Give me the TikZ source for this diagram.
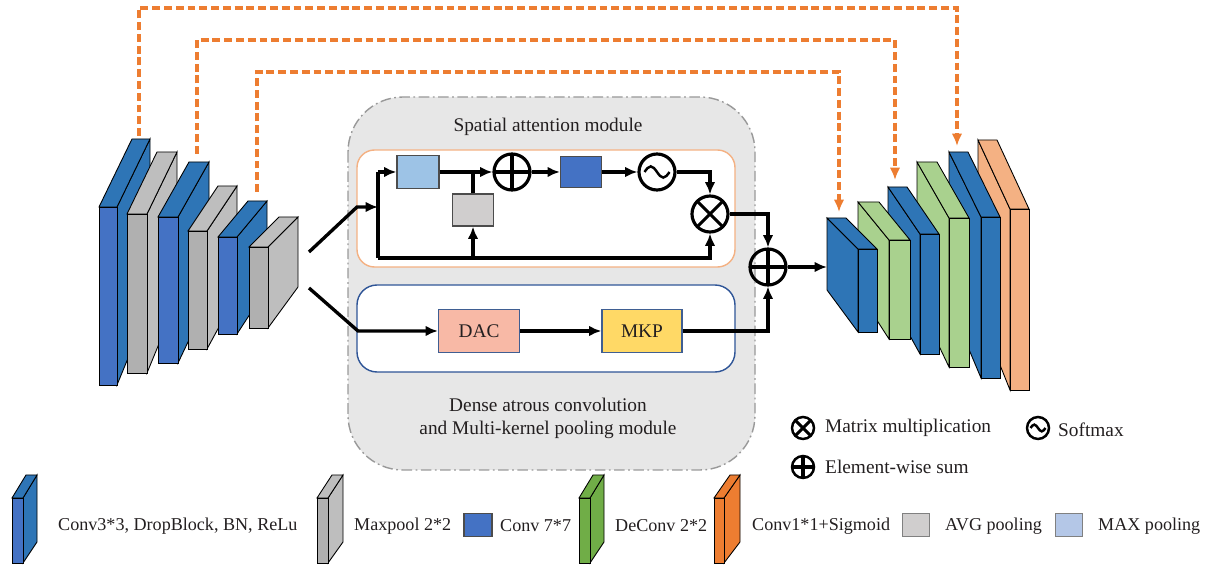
\documentclass[tikz,border=0pt]{standalone}
\usepackage{fontspec}
\setmainfont{Liberation Serif}
\usetikzlibrary{positioning, arrows.meta}

\definecolor{frontblue}{RGB}{68,114,196}
\definecolor{sideblue}{RGB}{46,117,182}
\definecolor{slabgray}{RGB}{176,176,176}
\definecolor{slabgrayside}{RGB}{190,190,190}
\definecolor{slabgreen}{RGB}{169,209,142}
\definecolor{slaborange}{RGB}{244,177,131}
\definecolor{keygreen}{RGB}{112,173,71}
\definecolor{keyorange}{RGB}{237,125,49}
\definecolor{skiporange}{RGB}{237,125,49}
\definecolor{panelgray}{RGB}{231,231,231}
\definecolor{saorange}{RGB}{244,177,131}
\definecolor{mkblue}{RGB}{47,85,151}
\definecolor{maxfill}{RGB}{157,195,230}
\definecolor{avgfill}{RGB}{208,206,206}
\definecolor{dacfill}{RGB}{248,185,166}
\definecolor{mkpfill}{RGB}{255,217,102}
\definecolor{keymax}{RGB}{180,199,231}
\definecolor{inkgray}{RGB}{35,31,32}

% slab seen from the left: front, side, x1, y1, x2, y2, dx, dy top, dy bottom
\newcommand{\lslab}[9]{%
  \filldraw[slabedge, fill=#2] (#5,#4) -- ++(#7,#8) -- ({#5+#7},{#6+#9}) -- (#5,#6) -- cycle;
  \filldraw[slabedge, fill=#2] (#3,#4) -- ++(#7,#8) -- ({#5+#7},{#4+#8}) -- (#5,#4) -- cycle;
  \filldraw[slabedge, fill=#1] (#3,#4) rectangle (#5,#6);
}
% slab seen from the right
\newcommand{\rslab}[9]{%
  \filldraw[slabedge, fill=#2] (#3,#4) -- ++(#7,#8) -- ({#3+#7},{#6+#9}) -- (#3,#6) -- cycle;
  \filldraw[slabedge, fill=#2] (#3,#4) -- ++(#7,#8) -- ({#5+#7},{#4+#8}) -- (#5,#4) -- cycle;
  \filldraw[slabedge, fill=#1] (#3,#4) rectangle (#5,#6);
}

\tikzset{
  slabedge/.style={draw=black, line width=0.5pt},
  conn/.style={line width=1.9pt},
  skip/.style={draw=skiporange, line width=2pt, dash pattern=on 4.5pt off 2.2pt},
  opnode/.style={circle, draw, line width=1.8pt, minimum size=0.72cm, inner sep=0pt},
  plus/.style={opnode, path picture={\draw[line width=1.8pt]
      (path picture bounding box.north) -- (path picture bounding box.south)
      (path picture bounding box.west) -- (path picture bounding box.east);}},
  times/.style={opnode, path picture={\draw[line width=1.8pt]
      (path picture bounding box.north west) -- (path picture bounding box.south east)
      (path picture bounding box.north east) -- (path picture bounding box.south west);}},
  wave/.style={opnode, path picture={\draw[line width=1.4pt]
      ([xshift=-#1]path picture bounding box.center)
      sin ([xshift=-#1/2, yshift=#1*0.45]path picture bounding box.center)
      cos (path picture bounding box.center)
      sin ([xshift=#1/2, yshift=-#1*0.45]path picture bounding box.center)
      cos ([xshift=#1]path picture bounding box.center);}},
  keyop/.style={minimum size=0.44cm, line width=1.4pt},
  box/.style={draw=black!70, line width=0.7pt, inner sep=0pt},
  label/.style={text=inkgray, font=\fontsize{11pt}{13pt}\selectfont},
  keytext/.style={label, anchor=west},
  blocktext/.style={keytext, font=\fontsize{10.3pt}{12pt}\selectfont}
}

\begin{document}
\begin{tikzpicture}[x=0.02cm, y=-0.02cm, >={Latex[length=7pt,width=6pt]}]
  \useasboundingbox (0,0) rectangle (1208,567);

  % module panel
  \filldraw[fill=panelgray, draw=gray!80, line width=0.8pt,
    dash pattern=on 6pt off 2pt on 1pt off 2pt, rounded corners=1.1cm]
    (348,97) rectangle (755,470);
  \filldraw[fill=white, draw=saorange, line width=0.8pt, rounded corners=0.35cm]
    (357,150) rectangle (735,267);
  \filldraw[fill=white, draw=mkblue, line width=0.8pt, rounded corners=0.4cm]
    (357,285) rectangle (735,372);
  \node[label] (satitle) at (548,127) {Spatial attention module};
  \node[label, align=center] (mktitle) at (548,418)
    {Dense atrous convolution\\and Multi-kernel pooling module};

  % skip connections
  \coordinate (e1) at (139,136);
  \coordinate (e3) at (197,154);
  \coordinate (e5) at (257,192);
  \coordinate (d1) at (839,212);
  \coordinate (d3) at (895,180);
  \coordinate (d5) at (957,146);
  \coordinate (top1) at (0,8);
  \coordinate (top2) at (0,40);
  \coordinate (top3) at (0,72);
  \draw[skip, ->] (e1) -- (e1 |- top1) -| (d5);
  \draw[skip, ->] (e3) -- (e3 |- top2) -| (d3);
  \draw[skip, ->] (e5) -- (e5 |- top3) -| (d1);

  % encoder
  \lslab{frontblue}{sideblue}{99}{207}{117}{385}{33}{-68}{-80}
  \lslab{slabgray}{slabgrayside}{127}{214}{147}{373}{30}{-62}{-73}
  \lslab{frontblue}{sideblue}{158}{217}{178}{363}{31}{-55}{-65}
  \lslab{slabgray}{slabgrayside}{188}{231}{207}{349}{30}{-45}{-55}
  \lslab{frontblue}{sideblue}{218}{237}{237}{334}{30}{-36}{-46}
  \lslab{slabgray}{slabgrayside}{249}{247}{268}{328}{30}{-30}{-41}

  % decoder
  \rslab{slaborange}{slaborange}{1010}{209}{1029}{390}{-32}{-69}{-80}
  \rslab{sideblue}{sideblue}{981}{217}{1000}{378}{-32}{-65}{-76}
  \rslab{slabgreen}{slabgreen}{949}{218}{969}{367}{-32}{-56}{-67}
  \rslab{sideblue}{sideblue}{920}{234}{939}{354}{-32}{-47}{-58}
  \rslab{slabgreen}{slabgreen}{889}{240}{910}{339}{-31}{-38}{-48}
  \rslab{sideblue}{sideblue}{858}{249}{877}{332}{-31}{-31}{-42}

  % spatial attention
  \node[box, fill=maxfill, minimum width=0.84cm, minimum height=0.66cm] (maxbox) at (418,172) {};
  \node[box, fill=avgfill, minimum width=0.82cm, minimum height=0.64cm] (avgbox) at (473,210) {};
  \node[plus] (sumA) at (512,172) {};
  \node[box, fill=frontblue, minimum width=0.82cm, minimum height=0.62cm] (conv7) at (581,172) {};
  \node[wave=0.25cm] (soft) at (657,172) {};
  \node[times] (mult) at (710,214) {};
  \node[plus] (sumB) at (768,267) {};

  % dense atrous convolution
  \node[box, draw=mkblue!80!gray, fill=dacfill, minimum width=1.62cm, minimum height=0.86cm, label] (dac) at (479,331) {DAC};
  \node[box, draw=mkblue!80!gray, fill=mkpfill, minimum width=1.6cm, minimum height=0.86cm, label] (mkp) at (642,331) {MKP};

  % connectors
  \coordinate (in1) at (309,252);
  \coordinate (in2) at (309,288);
  \coordinate (bend1) at (357,207);
  \coordinate (bend2) at (358,331);
  \coordinate (vtop) at (378,172);
  \coordinate (vmid) at (378,207);
  \coordinate (vbot) at (378,258);
  \coordinate (dec1) at (827,267);
  \draw[conn, ->] (in1) -- (bend1) -- (vmid);
  \draw[conn] (vtop) -- (vbot);
  \draw[conn, ->] (vtop) -- (maxbox.west);
  \draw[conn, ->] (maxbox.east) -- (sumA.west);
  \draw[conn] (avgbox.north) -- (avgbox.north |- maxbox.east);
  \draw[conn, ->] (avgbox.south |- vbot) -- (avgbox.south);
  \draw[conn, ->] (vbot) -| (mult.south);
  \draw[conn, ->] (sumA.east) -- (conv7.west);
  \draw[conn, ->] (conv7.east) -- (soft.west);
  \draw[conn, ->] (soft.east) -| (mult.north);
  \draw[conn, ->] (mult.east) -| (sumB.north);
  \draw[conn, ->] (in2) -- (bend2) -- (dac.west);
  \draw[conn, ->] (dac.east) -- (mkp.west);
  \draw[conn, ->] (mkp.east) -| (sumB.south);
  \draw[conn, ->] (sumB.east) -- (dec1);

  % symbol key
  \node[times, keyop] (keymult) at (803,428) {};
  \node[keytext] (keymulttext) at (819,428) {Matrix multiplication};
  \node[wave=0.15cm, keyop] (keysoft) at (1038,428) {};
  \node[keytext] (keysofttext) at (1052,430) {Softmax};
  \node[plus, keyop] (keysum) at (803,467) {};
  \node[keytext] (keysumtext) at (819,467) {Element-wise sum};

  % block key
  \lslab{frontblue}{sideblue}{12}{498}{23}{563}{14}{-23}{-21}
  \node[blocktext] (k1) at (52,526) {Conv3*3, DropBlock, BN, ReLu};
  \lslab{slabgray}{slabgrayside}{317}{498}{328}{563}{15}{-23}{-21}
  \node[blocktext] (k2) at (348,526) {Maxpool 2*2};
  \node[box, fill=frontblue, minimum width=0.56cm, minimum height=0.46cm] (k3box) at (478,525) {};
  \node[blocktext] (k3) at (494,526) {Conv 7*7};
  \lslab{keygreen}{keygreen}{579}{498}{590}{563}{14}{-23}{-21}
  \node[blocktext] (k4) at (609,526) {DeConv 2*2};
  \lslab{keyorange}{keyorange}{714}{498}{724}{563}{16}{-23}{-21}
  \node[blocktext] (k5) at (746,526) {Conv1*1+Sigmoid};
  \node[box, draw=black!50, fill=avgfill, minimum width=0.54cm, minimum height=0.46cm] (k6box) at (916,525) {};
  \node[blocktext] (k6) at (939,526) {AVG pooling};
  \node[box, draw=black!50, fill=keymax, minimum width=0.54cm, minimum height=0.46cm] (k7box) at (1069,525) {};
  \node[blocktext] (k7) at (1092,526) {MAX pooling};
\end{tikzpicture}
\end{document}
